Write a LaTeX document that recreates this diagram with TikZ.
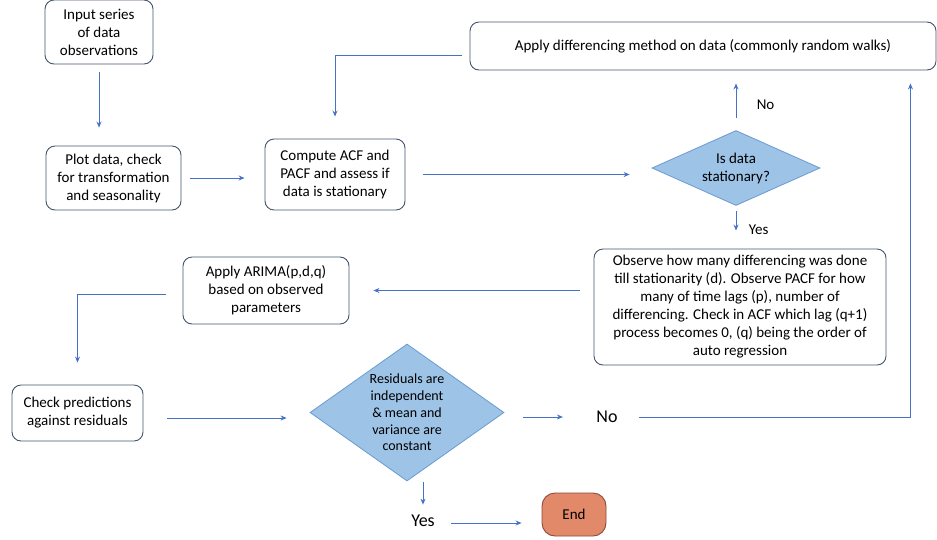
\documentclass[tikz,border=0pt]{standalone}
\usepackage{fontspec}
\setmainfont{Carlito}
\usetikzlibrary{shapes.geometric, positioning, arrows.meta}

\definecolor{flowblue}{HTML}{4472C4}
\definecolor{boxline}{HTML}{44546A}
\definecolor{decfill}{HTML}{9DC3E6}
\definecolor{decline}{HTML}{6A9BD0}
\definecolor{endfill}{HTML}{E2896A}
\definecolor{endline}{HTML}{8B4A3A}

\begin{document}
\begin{tikzpicture}[x=1pt,y=-1pt,->,>={Stealth[length=6pt,width=5pt]},
        font=\fontsize{15}{18}\selectfont,
        every edge/.style={draw=flowblue,line width=0.9pt},
        base node/.style={rectangle,rounded corners=9pt,draw=boxline,line width=0.9pt,align=center,inner sep=2pt},
        dec node/.style={diamond,draw=decline,fill=decfill,line width=0.8pt,align=center,inner sep=0pt},
        end node/.style={rectangle,rounded corners=13pt,draw=endline,fill=endfill,line width=0.9pt},
        word node/.style={font=\fontsize{18}{20}\selectfont}]
        \useasboundingbox (0,0) rectangle (937,539);

        \node[base node,minimum width=108pt,minimum height=64pt] (1) at (99,32) {Input series\\of data\\observations};
        \node[base node,minimum width=135pt,minimum height=64pt] (2) at (113.5,178) {Plot data, check\\for transformation\\and seasonality};
        \node[base node,minimum width=140pt,minimum height=71pt] (3) at (335,174.5) {Compute ACF and\\PACF and assess if\\data is stationary};
        \node[dec node,aspect=2.24,minimum width=168pt,minimum height=75pt] (4) at (736,168) {Is data\\stationary?};
        \node[base node,minimum width=466pt,minimum height=48pt] (5) at (703,46) {Apply differencing method on data (commonly random walks)};
        \node[base node,minimum width=292pt,minimum height=116pt] (6) at (740,307) {Observe how many differencing was done\\till stationarity (d). Observe PACF for how\\many of time lags (p), number of\\differencing. Check in ACF which lag (q+1)\\process becomes 0, (q) being the order of\\auto regression};
        \node[base node,minimum width=166pt,minimum height=67pt] (7) at (266,290.5) {Apply ARIMA(p,d,q)\\based on observed\\parameters};
        \node[base node,minimum width=131pt,minimum height=56pt] (8) at (77.5,413) {Check predictions\\against residuals};
        \node[dec node,aspect=1.416,minimum width=194pt,minimum height=137pt,font=\fontsize{14}{16.7}\selectfont] (9) at (407,412.5) {Residuals are\\independent\\\& mean and\\variance are\\constant};
        \node[word node] (10) at (607,417) {No};
        \node[word node] (11) at (423,521) {Yes};
        \node[end node,minimum width=64pt,minimum height=43pt] (12) at (574,514.5) {End};

        \path
        (1.south) edge[shorten <=8pt,shorten >=18pt] (1.south |- 2.north)
        (2.east) edge[shorten <=9pt,shorten >=20pt] (2.east -| 3.west)
        (3.east) edge[shorten <=18pt,shorten >=22pt] (3.east -| 4.west)
        (4.north) edge[shorten <=12pt,shorten >=13pt] node[pos=0.43,right=17pt] {No} (4.north |- 5.south)
        (4.south) edge[shorten <=5pt,shorten >=18pt] node[pos=0.55,right=9pt] {Yes} (4.south |- 6.north)
        (6.west |- 7.east) edge[shorten <=14pt,shorten >=24pt] (7.east)
        ([yshift=-5pt]8.east) edge[shorten <=24pt,shorten >=23pt] ([yshift=-5pt]8.east -| 9.west)
        (10.west -| 9.east) edge[shorten <=19pt,shorten >=30pt] (10.west)
        (9.south -| 11.north) edge[shorten <=1pt,shorten >=7pt] (11.north)
        ([yshift=-2pt]11.east) edge[shorten <=13pt,shorten >=20pt] ([yshift=-2pt]11.east -| 12.west);

        \draw[flowblue,line width=0.9pt,shorten <=8pt,shorten >=22pt] ([yshift=-9pt]5.west) -| (3.north);
        \draw[flowblue,line width=0.9pt,shorten <=17pt,shorten >=22pt] ([yshift=-4pt]7.west) -| (8.north);
        \draw[flowblue,line width=0.9pt,shorten <=18pt,shorten >=13pt] (10.east) -| ([xshift=-26pt]5.south east);
    \end{tikzpicture}
\end{document}
